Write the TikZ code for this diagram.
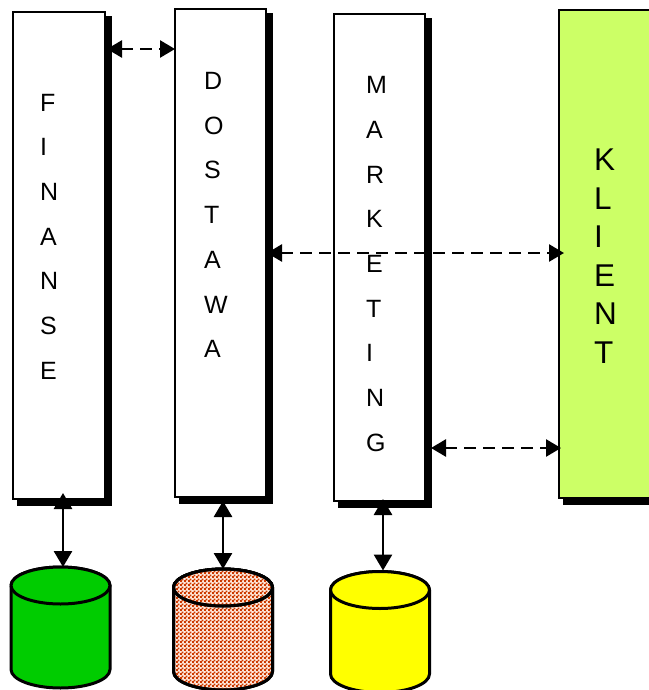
\documentclass[tikz,border=0pt]{standalone}
\usepackage{fontspec}
\setmainfont{Liberation Sans}
\usetikzlibrary{arrows.meta,patterns,shadows,positioning}
\pgfdeclarepatternformonly{chk}{\pgfqpoint{0pt}{0pt}}{\pgfqpoint{4pt}{4pt}}{\pgfqpoint{4pt}{4pt}}{
  \pgfpathrectangle{\pgfqpoint{0pt}{0pt}}{\pgfqpoint{2.2pt}{2.2pt}}
  \pgfpathrectangle{\pgfqpoint{2pt}{2pt}}{\pgfqpoint{2.2pt}{2.2pt}}
  \pgfusepath{fill}}
\definecolor{klientgreen}{HTML}{CCFF66}
\definecolor{dbgreen}{HTML}{00CC00}
\definecolor{dbyellow}{HTML}{FFFF00}
\definecolor{dbbrown}{HTML}{CC3A00}
\definecolor{dbback}{HTML}{FFE8DC}
\tikzset{
  x=1pt,y=-1pt,
  colbox/.style={draw=black,line width=2pt,outer sep=0pt,fill=white,minimum width=91pt,inner sep=0pt,
    drop shadow={shadow xshift=5.25pt,shadow yshift=-5.5pt,draw=black,line width=2.5pt,fill=black,opacity=1}},
  lettersA/.style={align=left,anchor=west,inner sep=0pt,font=\fontsize{25}{44.7}\selectfont},
  lettersB/.style={align=left,anchor=west,inner sep=0pt,font=\fontsize{31.5}{38.5}\selectfont},
  dbanchor/.style={minimum width=99pt,minimum height=121pt,inner sep=0pt,outer sep=0pt},
  dashlink/.style={line width=2.6pt,dash pattern=on 12pt off 7pt,{Triangle[length=15pt,width=17pt]}-{Triangle[length=15pt,width=17pt]}},
  solidlink/.style={line width=2.8pt,{Triangle[length=16pt,width=18pt]}-{Triangle[length=16pt,width=18pt]}},
  dbline/.style={line width=3pt,draw=black},
}
\newcommand{\dbbody}[2]{%
  \path[dbline,#2] (#1.north west) ++(0,18.5)
    arc[start angle=180,end angle=0,x radius=49.5pt,y radius=18.5pt]
    -- ++(0,84) arc[start angle=0,end angle=-180,x radius=49.5pt,y radius=18.5pt] -- cycle;
}
\newcommand{\dbtop}[2]{%
  \path[dbline,#2] (#1.north west) ++(0,18.5)
    arc[start angle=180,end angle=-180,x radius=49.5pt,y radius=18.5pt];
}
\begin{document}
\begin{tikzpicture}
\useasboundingbox (0,0) rectangle (648,690);
\node[colbox,minimum width=92pt,minimum height=487pt] (fin) at (59,255.5) {};
\node[colbox,minimum height=488pt] (dos) at (220.5,253) {};
\node[colbox,minimum height=487pt] (mar) at (379.5,257.5) {};
\node[colbox,fill=klientgreen,minimum width=110pt,minimum height=488pt,anchor=west] (kli) at (559,254) {};
\node[lettersA] (tfin) at (40,236.5) {F\\I\\N\\A\\N\\S\\E};
\node[lettersA] (tdos) at (204,215) {D\\O\\S\\T\\A\\W\\A};
\node[lettersA] (tmar) at (366,264) {M\\A\\R\\K\\E\\T\\I\\N\\G};
\node[lettersB] (tkli) at (594,256) {K\\L\\I\\E\\N\\T};
\node[dbanchor] (db1) at (60.5,627.5) {};
\node[dbanchor] (db2) at (223,629.5) {};
\node[dbanchor] (db3) at (380,632) {};
\dbbody{db1}{fill=dbgreen}
\dbtop{db1}{fill=dbgreen}
\dbbody{db2}{fill=dbback}
\dbbody{db2}{pattern=chk,pattern color=dbbrown}
\dbtop{db2}{fill=dbback}
\dbtop{db2}{pattern=chk,pattern color=dbbrown}
\dbbody{db3}{fill=dbyellow}
\dbtop{db3}{fill=dbyellow}
\coordinate (a1) at (107,49);
\coordinate (a2) at (dos.west |- a1);
\coordinate (b1) at (267,253);
\coordinate (b2) at (564,253);
\coordinate (c1) at (431,448);
\coordinate (c2) at (561,448);
\draw[dashlink] (a1) -- (a2);
\draw[dashlink] (b1) -- (b2);
\draw[dashlink] (c1) -- (c2);
\draw[solidlink] ([xshift=4pt,yshift=6pt]fin.south) -- ([xshift=2.5pt]db1.north);
\draw[solidlink] ([xshift=2.5pt,yshift=-4pt]dos.south) -- (db2.north);
\draw[solidlink] ([xshift=3.5pt,yshift=2pt]mar.south) -- ([xshift=3pt,yshift=1pt]db3.north);
\end{tikzpicture}
\end{document}
